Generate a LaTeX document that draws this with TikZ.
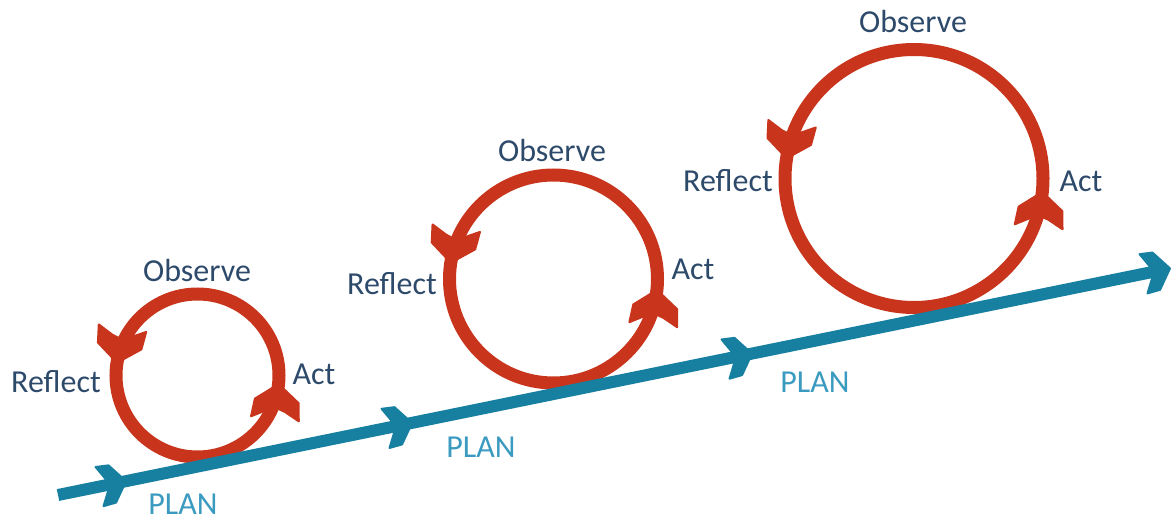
\documentclass[tikz,border=0pt]{standalone}
\usepackage{fontspec}
\setmainfont{Carlito}
\usetikzlibrary{calc}
\definecolor{cyred}{HTML}{C8351C}
\definecolor{flowblue}{HTML}{1780A1}
\definecolor{navy}{HTML}{2E4A6B}
\definecolor{plancol}{HTML}{3A9AC0}
\begin{document}
\begin{tikzpicture}[x=1pt,y=1pt,
  ring/.style={draw=cyred,line width=13pt},
  redhead/.pic={\filldraw[cyred,line join=round,line width=2pt]
      (0,0) -- (-17,22) -- (-35,24) -- (-27,9) -- (-24,0)
      -- (-27,-9) -- (-35,-24) -- (-17,-22) -- cycle;},
  bluehead/.pic={\filldraw[flowblue,line join=round,line width=2pt]
      (0,0) -- (-14,19) -- (-27,20) -- (-20,7) -- (-18,0)
      -- (-20,-7) -- (-27,-20) -- (-14,-19) -- cycle;},
  flow/.style={draw=flowblue,line width=12pt},
  lab/.style={anchor=base,text=navy,font=\fontsize{32}{34}\selectfont,inner sep=0pt},
  plan/.style={lab,text=plancol}]
\useasboundingbox (0,0) rectangle (1171,520);
% cycle centres and radii
\coordinate (c1) at (197.5,144.5);
\coordinate (c2) at (553.5,241);
\coordinate (c3) at (914,341.5);
% red cycles
\foreach \c/\r in {c1/81.5,c2/104,c3/129}{
  \draw[ring] (\c) circle[radius=\r];
  \pic[rotate=261] at ($(\c)+(171:\r)$) {redhead};
  \pic[rotate=84] at ($(\c)+(-6:\r)$) {redhead};
}
% blue PLAN line
\coordinate (s) at (58,25);
\coordinate (p1) at (126,38.8);
\coordinate (p2) at (412,97);
\coordinate (p3) at (752,166.3);
\coordinate (e) at (1170,251.6);
\draw[flow] (s) -- ($(e)!14pt!(s)$);
\foreach \p in {p1,p2,p3,e}{
  \pic[rotate=11.5] at (\p) {bluehead};
}
% labels
\node[lab] (o1) at (197,238) {Observe};
\node[lab] (r1) at (56,127) {Reflect};
\node[lab] (a1) at (314,135) {Act};
\node[plan] (pl1) at (183,6) {PLAN};
\node[lab] (o2) at (552,358) {Observe};
\node[lab] (r2) at (392,225) {Reflect};
\node[lab] (a2) at (693,240) {Act};
\node[plan] (pl2) at (481,63) {PLAN};
\node[lab] (o3) at (913,487) {Observe};
\node[lab] (r3) at (728,328) {Reflect};
\node[lab] (a3) at (1081,328) {Act};
\node[plan] (pl3) at (815,127) {PLAN};
\end{tikzpicture}
\end{document}
